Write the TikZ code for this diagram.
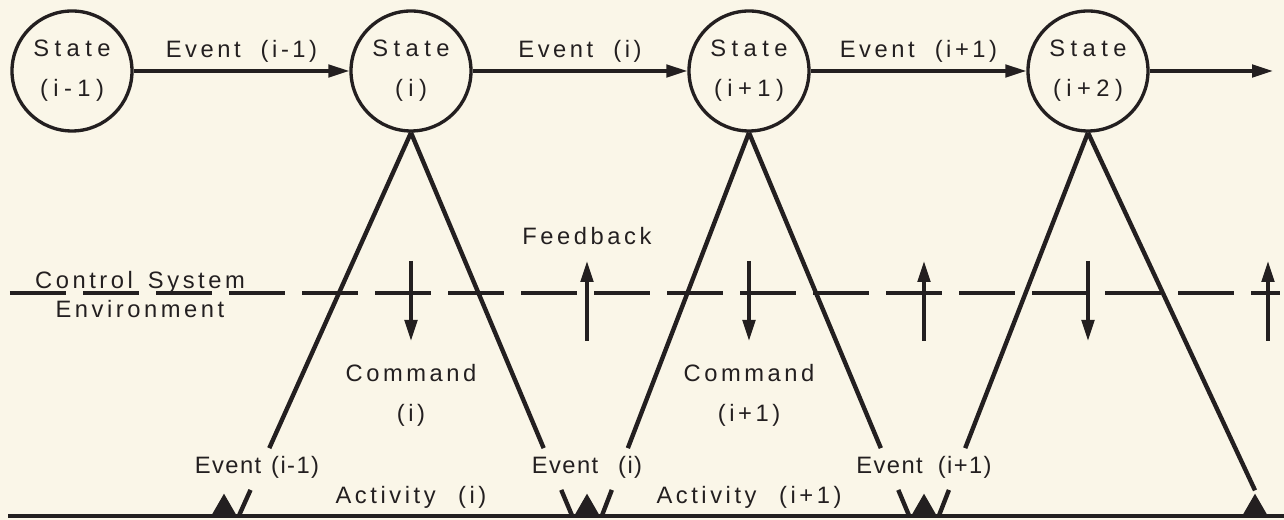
\documentclass[tikz,border=0pt]{standalone}
\usepackage{fontspec}
\setmainfont{Liberation Sans}
\newfontfamily\wide[LetterSpace=15]{Liberation Sans}
\newfontfamily\statefont[LetterSpace=23]{Liberation Sans}
\newfontfamily\evfont[LetterSpace=6]{Liberation Sans}
\usepackage{tikz}
\usetikzlibrary{arrows.meta,calc,positioning,shapes.geometric}
\definecolor{ink}{RGB}{35,31,32}
\definecolor{paper}{RGB}{250,246,232}

\begin{document}
\begin{tikzpicture}[ink,line width=1.9pt,
	>={Triangle[length=0.42cm,width=0.25cm]},
	state/.style={circle,draw,minimum size=2.4cm,inner sep=0pt,align=center,font=\statefont\fontsize{13.5}{22.8}\selectfont},
	lbl/.style={font=\wide\fontsize{13.5}{22.8}\selectfont,inner sep=1pt,align=center},
	evlbl/.style={font=\evfont\fontsize{13.5}{15}\selectfont,inner sep=1pt},
	leg/.style={line width=2.5pt},
	evtick/.style={regular polygon,regular polygon sides=3,fill,draw=none,inner sep=0pt,minimum size=0.55cm,anchor=south},
	border/.style={dash pattern=on 1.12cm off 0.34cm}]

\fill[paper] (0,0) rectangle (25.68,10.4);
\useasboundingbox (0,0) rectangle (25.68,10.4);

% states and events along the top
\node[state] (S0) at (1.44,8.98) {State\\(i-1)};
\node[state] (S1) at (8.22,8.98) {State\\(i)};
\node[state] (S2) at (14.98,8.98) {State\\(i+1)};
\node[state] (S3) at (21.76,8.98) {State\\(i+2)};
\coordinate (out) at (25.46,8.98);
\draw[->] (S0) -- node[lbl,above=1mm] {Event\hspace{0.4cm}(i-1)} (S1);
\draw[->] (S1) -- node[lbl,above=1mm] {Event\hspace{0.4cm}(i)} (S2);
\draw[->] (S2) -- node[lbl,above=1mm] {Event\hspace{0.4cm}(i+1)} (S3);
\draw[->] (S3) -- (out);

% time axis
\coordinate (t0) at (0.16,0.08);
\coordinate (t1) at (25.68,0.08);
\draw[line width=2pt] (t0) -- (t1);
\node[evtick] (E0) at (4.48,0.08) {};
\node[evtick] (E1) at (11.74,0.08) {};
\node[evtick] (E2) at (18.48,0.08) {};
\node[evtick] (E3) at (25.1,0.08) {};

% legs
\draw[leg] (S1.south) -- ($(S1.south)!0.823!(E0.corner 3)$);
\draw[leg] ($(S1.south)!0.932!(E0.corner 3)$) -- (E0.corner 3);
\draw[leg] (S1.south) -- ($(S1.south)!0.823!(E1.corner 2)$);
\draw[leg] ($(S1.south)!0.932!(E1.corner 2)$) -- (E1.corner 2);
\draw[leg] (S2.south) -- ($(S2.south)!0.823!(E1.corner 3)$);
\draw[leg] ($(S2.south)!0.932!(E1.corner 3)$) -- (E1.corner 3);
\draw[leg] (S2.south) -- ($(S2.south)!0.823!(E2.corner 2)$);
\draw[leg] ($(S2.south)!0.932!(E2.corner 2)$) -- (E2.corner 2);
\draw[leg] (S3.south) -- ($(S3.south)!0.823!(E2.corner 3)$);
\draw[leg] ($(S3.south)!0.932!(E2.corner 3)$) -- (E2.corner 3);
\draw[leg] (S3.south) -- (E3.corner 1);

% control system / environment boundary
\coordinate (bl) at (0.2,4.54);
\coordinate (br) at (25.6,4.54);
\draw[border] (bl) -- (br);
\node[lbl,anchor=base] (ctl) at (2.8,4.62) {Control\hspace{0.3cm}System};
\node[lbl,anchor=base] (env) at (2.8,4.04) {Environment};

% commands down, feedback up
\coordinate (hi) at (0,5.18);
\coordinate (lo) at (0,3.58);
\coordinate (edge) at (25.36,4.54);
\draw[->] (S1 |- hi) -- (S1 |- lo);
\draw[->] (S2 |- hi) -- (S2 |- lo);
\draw[->] (S3 |- hi) -- (S3 |- lo);
\draw[->] (E1 |- lo) -- (E1 |- hi);
\draw[->] (E2 |- lo) -- (E2 |- hi);
\draw[->] (edge |- lo) -- (edge |- hi);
\node[lbl,anchor=base] (fb) at (E1 |- 0,5.5) {Feedback};

\node[lbl] (cmd1) at (S1 |- 0,2.5) {Command\\(i)};
\node[lbl] (cmd2) at (S2 |- 0,2.5) {Command\\(i+1)};

% labels on the time axis
\node[evlbl] (ev0) at (5.14,1.06) {Event\hspace{0.2cm}(i-1)};
\node[evlbl] (ev1) at (E1 |- 0,1.06) {Event\hspace{0.4cm}(i)};
\node[evlbl] (ev2) at (E2 |- 0,1.06) {Event\hspace{0.3cm}(i+1)};
\node[lbl] (act1) at (S1 |- 0,0.46) {Activity\hspace{0.45cm}(i)};
\node[lbl] (act2) at (S2 |- 0,0.46) {Activity\hspace{0.45cm}(i+1)};

\end{tikzpicture}
\end{document}
